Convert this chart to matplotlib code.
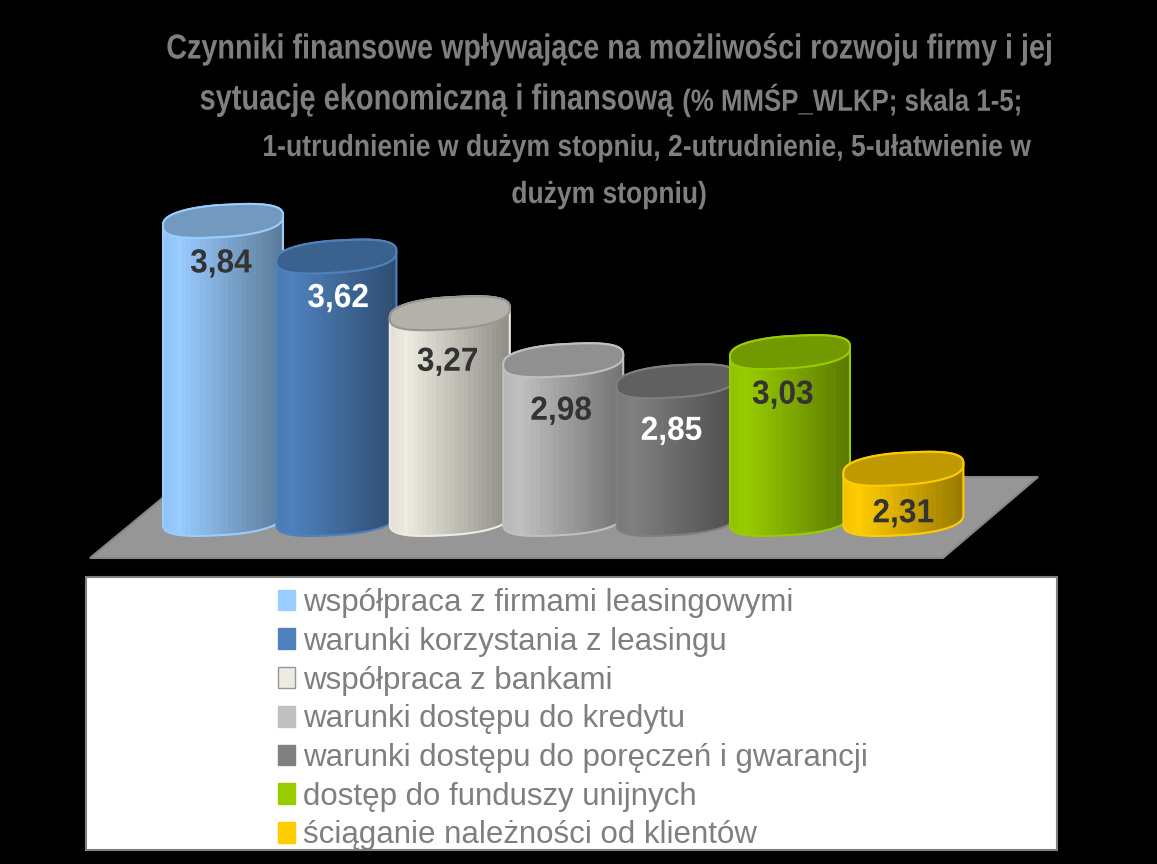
import numpy as np
import matplotlib
matplotlib.use("Agg")
import matplotlib.pyplot as plt
import matplotlib.patheffects as pe
from matplotlib.colors import to_rgb
from matplotlib.patches import Patch, Polygon, Rectangle
from matplotlib.transforms import Affine2D

categories = [
    "współpraca z firmami leasingowymi",
    "warunki korzystania z leasingu",
    "współpraca z bankami",
    "warunki dostępu do kredytu",
    "warunki dostępu do poręczeń i gwarancji",
    "dostęp do funduszy unijnych",
    "ściąganie należności od klientów",
]
values = [3.84, 3.62, 3.27, 2.98, 2.85, 3.03, 2.31]
value_labels = ["3,84", "3,62", "3,27", "2,98", "2,85", "3,03", "2,31"]
colors = ["#99CCFF", "#4F81BD", "#EEECE1", "#C0C0C0", "#808080", "#99CC00", "#FFCC00"]
label_colors = ["#333333", "#FFFFFF", "#333333", "#333333", "#FFFFFF", "#333333", "#333333"]
label_shift = [(-2, -43), (2, -42), (-2, -49), (-2, -51), (-5, -50), (-7, -43), (0, -45)]

W, H = 1157, 864
BASE = 2.0
PX_PER_X = 113.4
PX_PER_Y = 162.0
X0_PX = 223.0
Y0_PX = 519.0  # pixel row of the value 2
HALF_W = 60 / PX_PER_X
HALF_H = 16 / PX_PER_Y
SHEAR = 5 / PX_PER_Y
GRAY = "#7F7F7F"
FONT = "Liberation Sans"
ANCHORS = {"left": 0.0, "center": 0.5, "right": 1.0}


class Squeeze(pe.AbstractPathEffect):
    # the picture's fonts are condensed, matplotlib has no horizontal text scale
    def __init__(self, sx, ha="center"):
        super().__init__()
        self.sx = sx
        self.anchor = ANCHORS[ha]

    def draw_path(self, renderer, gc, tpath, affine, rgbFace=None):
        ext = tpath.get_extents(affine)
        ax_px = ext.x0 + (ext.x1 - ext.x0) * self.anchor
        squeezed = affine + Affine2D().translate(-ax_px, 0).scale(self.sx, 1).translate(ax_px, 0)
        super().draw_path(renderer, gc, tpath, squeezed, rgbFace)


def rim(cx, y, t):
    # rounded-shoulder ellipse, tilted up to the right
    c, s = np.cos(t), np.sin(t)
    ex = np.sign(c) * np.abs(c) ** 0.85
    ey = np.sign(s) * np.abs(s) ** 0.75
    return cx + HALF_W * ex, y + HALF_H * ey + SHEAR * c


def draw_cylinder(ax, i, value, color):
    base = np.array(to_rgb(color))
    edge = "#969696" if color == "#EEECE1" else color
    t = np.linspace(0, 1, 26)
    shade = np.where(t < 0.12, 0.96 + t / 3, 1.0 - (t - 0.12) * 0.45)
    strip = (base[None, None, :] * shade[None, :, None]).clip(0, 1)

    top = np.linspace(0, np.pi, 60)
    front = np.linspace(np.pi, 2 * np.pi, 60)
    xb, yb = rim(i, BASE, front)
    xt, yt = rim(i, value, top)
    outline = np.column_stack([np.r_[xb, xt], np.r_[yb, yt]])
    body = Polygon(outline, closed=True, facecolor="none", edgecolor=color, lw=1.5, zorder=3 + i)
    img = ax.imshow(strip, extent=(i - HALF_W, i + HALF_W, BASE - 0.2, value + 0.2),
                    aspect="auto", interpolation="nearest", zorder=3 + i)
    ax.add_patch(body)
    img.set_clip_path(body)

    whole = np.linspace(0, 2 * np.pi, 120)
    xe, ye = rim(i, value, whole)
    lid = Polygon(np.column_stack([xe, ye]), closed=True, facecolor=base * 0.75,
                  edgecolor=edge, lw=1.5, zorder=3 + i)
    ax.add_patch(lid)


def title_line(fig, x, y, s, size, sx, ha="center"):
    fig.text(x / W, 1 - y / H, s, ha=ha, va="center", fontsize=size, fontweight="bold",
             family=FONT, color=GRAY, path_effects=[Squeeze(sx, ha)])


def main():
    fig = plt.figure(figsize=(W / 100, H / 100), dpi=100, facecolor="black")
    ax = fig.add_axes([0, 0, 1, 1])
    ax.set_facecolor("black")
    ax.axis("off")

    # floor of the 3D chart, in figure pixels
    floor = [(90, 558), (943, 558), (1038, 477), (188, 477)]
    ax.add_patch(Polygon([(x / W, 1 - y / H) for x, y in floor], closed=True,
                         facecolor="#969696", edgecolor="#868686", lw=1.5,
                         transform=fig.transFigure, zorder=1))

    for i, (value, color) in enumerate(zip(values, colors)):
        draw_cylinder(ax, i, value, color)
        ax.annotate(value_labels[i], (i, value), xytext=label_shift[i], textcoords="offset pixels",
                    ha="center", va="center", fontsize=24, fontweight="bold",
                    family=FONT, color=label_colors[i], zorder=20,
                    path_effects=[Squeeze(0.95)])

    ax.set_xlim(-X0_PX / PX_PER_X, (W - X0_PX) / PX_PER_X)
    ax.set_ylim(BASE - (H - Y0_PX) / PX_PER_Y, BASE + Y0_PX / PX_PER_Y)

    # legend panel
    ax.add_patch(Rectangle((86 / W, 1 - 850 / H), 971 / W, 273 / H, facecolor="white",
                           edgecolor="#808080", lw=1.5, transform=fig.transFigure, zorder=30))
    handles = [Patch(facecolor=c, edgecolor="#969696" if c == "#EEECE1" else c) for c in colors]
    leg = ax.legend(handles, categories, loc="upper left", bbox_to_anchor=(278 / W, 1 - 588 / H),
                    bbox_transform=fig.transFigure, frameon=False,
                    labelcolor=GRAY, prop={"family": FONT, "size": 22.5},
                    borderaxespad=0, borderpad=0, labelspacing=0.28,
                    handlelength=0.544, handleheight=0.64, handletextpad=0.26)
    leg.set_zorder(31)

    # title lines
    title_line(fig, 610, 49, "Czynniki finansowe wpływające na możliwości rozwoju firmy i jej", 25, 0.828)
    title_line(fig, 673, 100, "sytuację ekonomiczną i finansową", 26, 0.803, ha="right")
    title_line(fig, 682, 100, "(% MMŚP_WLKP; skala 1-5;", 22, 0.845, ha="left")
    title_line(fig, 646, 148, "1-utrudnienie w dużym stopniu, 2-utrudnienie, 5-ułatwienie w", 22, 0.869)
    title_line(fig, 609, 195, "dużym stopniu)", 22, 0.866)

    fig.savefig("out.png", dpi=100, facecolor="black")


if __name__ == "__main__":
    main()
